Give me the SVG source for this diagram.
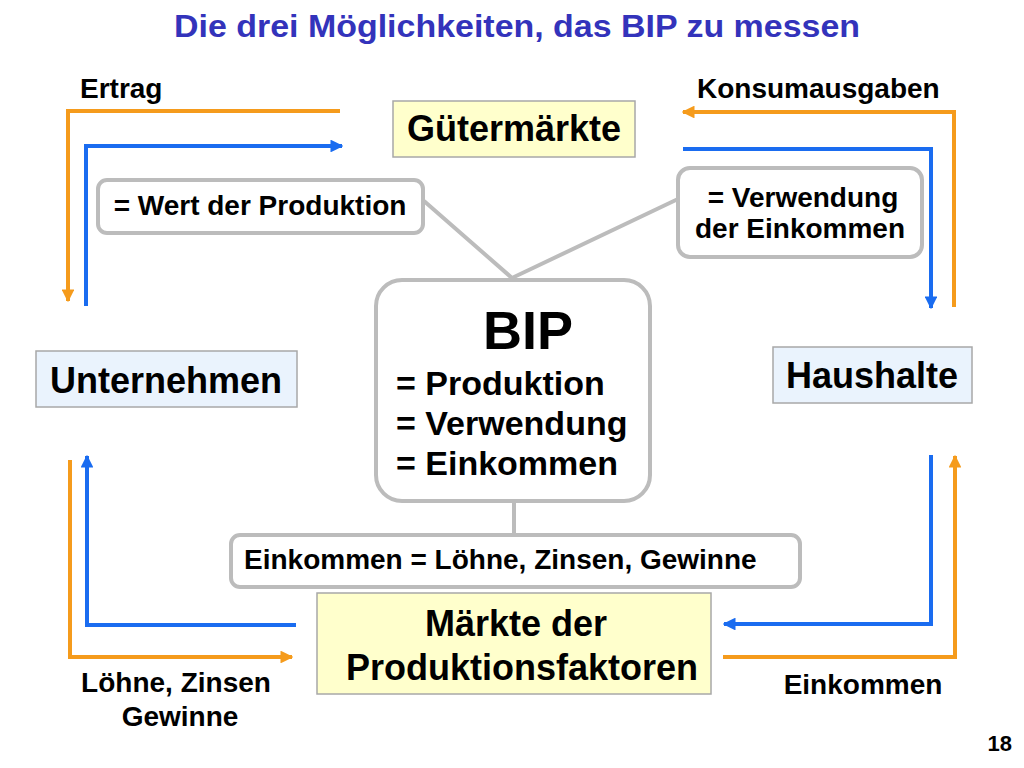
<svg xmlns="http://www.w3.org/2000/svg" width="1024" height="768" viewBox="0 0 1024 768">
<defs>
<style>
text{font-family:"Liberation Sans",Arial,Helvetica,sans-serif;font-weight:bold;fill:#000}
.title{font-size:31px;fill:#3333bb}
.lbl{font-size:28px}
.big{font-size:36px}
.flow{fill:none;stroke-width:4;stroke-linejoin:miter}
.or{stroke:#f59b1c}
.bl{stroke:#1a6cf0}
.conn{fill:none;stroke:#bcbcbc;stroke-width:4}
.note{fill:#fff;stroke:#bcbcbc;stroke-width:4}
.mkt{fill:#ffffcc;stroke:#a8a8a8;stroke-width:1.5}
.act{fill:#eaf3fd;stroke:#a8a8a8;stroke-width:1.5}
</style>
<marker id="ao" viewBox="0 0 10 10" refX="9" refY="5" markerWidth="3.2" markerHeight="3.2" orient="auto" markerUnits="strokeWidth"><path d="M0,0 L10,5 L0,10 z" fill="#f59b1c"/></marker>
<marker id="ab" viewBox="0 0 10 10" refX="9" refY="5" markerWidth="3.2" markerHeight="3.2" orient="auto" markerUnits="strokeWidth"><path d="M0,0 L10,5 L0,10 z" fill="#1a6cf0"/></marker>
</defs>
<rect width="1024" height="768" fill="#fff"/>
<text class="title" x="174" y="37" textLength="686" lengthAdjust="spacingAndGlyphs">Die drei Möglichkeiten, das BIP zu messen</text>

<g id="connectors">
<path class="flow or" d="M340,111 H68 V301" marker-end="url(#ao)"/>
<path class="flow bl" d="M86,306 V146 H342" marker-end="url(#ab)"/>
<path class="flow or" d="M954,307 V112 H683" marker-end="url(#ao)"/>
<path class="flow bl" d="M683,149 H931 V308" marker-end="url(#ab)"/>
<path class="flow or" d="M70,460 V657 H292" marker-end="url(#ao)"/>
<path class="flow bl" d="M296,625 H87 V456" marker-end="url(#ab)"/>
<path class="flow bl" d="M931,455 V624 H724" marker-end="url(#ab)"/>
<path class="flow or" d="M723,657 H955 V456" marker-end="url(#ao)"/>
<path class="conn" d="M424,201 L512,278 L678,199"/>
<path class="conn" d="M514,502 V534"/>
</g>

<g id="label-ertrag"><text class="lbl" x="80" y="98">Ertrag</text></g>
<g id="label-konsum"><text class="lbl" x="697" y="98">Konsumausgaben</text></g>
<g id="label-loehne"><text class="lbl" x="176" y="692" text-anchor="middle">Löhne, Zinsen</text><text class="lbl" x="180" y="726" text-anchor="middle">Gewinne</text></g>
<g id="label-einkommen"><text class="lbl" x="863" y="694" text-anchor="middle">Einkommen</text></g>

<g id="guetermaerkte">
<rect class="mkt" x="393" y="101" width="242" height="56"/>
<text class="big" x="514" y="141" text-anchor="middle">Gütermärkte</text>
</g>

<g id="wert">
<rect class="note" x="98" y="180" width="325" height="53" rx="9"/>
<text class="lbl" x="260" y="215" text-anchor="middle">= Wert der Produktion</text>
</g>

<g id="verwendung">
<rect class="note" x="678" y="168" width="244" height="89" rx="12"/>
<text class="lbl" x="803" y="207" text-anchor="middle">= Verwendung</text>
<text class="lbl" x="800" y="238" text-anchor="middle">der Einkommen</text>
</g>

<g id="unternehmen">
<rect class="act" x="36" y="351" width="261" height="56"/>
<text class="big" x="166" y="393" text-anchor="middle">Unternehmen</text>
</g>

<g id="haushalte">
<rect class="act" x="773" y="347" width="199" height="56"/>
<text class="big" x="872" y="388" text-anchor="middle">Haushalte</text>
</g>

<g id="bip">
<rect class="note" x="376" y="280" width="274" height="221" rx="26"/>
<text x="528" y="349" text-anchor="middle" style="font-size:54px">BIP</text>
<text x="396" y="395" style="font-size:34px">= Produktion</text>
<text x="396" y="435" style="font-size:34px">= Verwendung</text>
<text x="396" y="475" style="font-size:34px">= Einkommen</text>
</g>

<g id="einkommen-def">
<rect class="note" x="231" y="535" width="569" height="52" rx="9"/>
<text class="lbl" x="244" y="569">Einkommen = Löhne, Zinsen, Gewinne</text>
</g>

<g id="faktormaerkte">
<rect class="mkt" x="317" y="593" width="394" height="101"/>
<text class="big" x="516" y="636" text-anchor="middle">Märkte der</text>
<text class="big" x="522" y="680" text-anchor="middle">Produktionsfaktoren</text>
</g>

<g id="page"><text x="1012" y="751" text-anchor="end" style="font-size:22px">18</text></g>
</svg>
